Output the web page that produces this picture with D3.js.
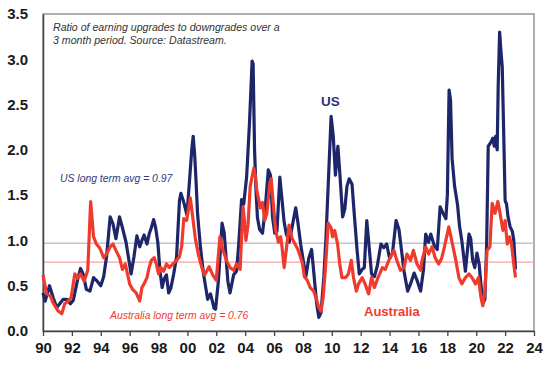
<!DOCTYPE html>
<html>
<head>
<meta charset="utf-8">
<script src="https://cdn.jsdelivr.net/npm/d3@7"></script>
<style>
  html, body { margin: 0; padding: 0; background: #fff; }
  svg { display: block; }
  text { font-family: "Liberation Sans", Arial, sans-serif; }
</style>
</head>
<body>
<svg id="chart" width="548" height="366"></svg>
<script>
// ---- data ----
const xTickYears = [1990,1992,1994,1996,1998,2000,2002,2004,2006,2008,2010,2012,2014,2016,2018,2020,2022,2024];
const xTickLabels = ["90","92","94","96","98","00","02","04","06","08","10","12","14","16","18","20","22","24"];
const yTicks = [0, 0.5, 1.0, 1.5, 2.0, 2.5, 3.0, 3.5];
const usLongTermAvg = 0.97;
const auLongTermAvg = 0.76;

const usYears = [1990.0,1990.15,1990.45,1990.7,1990.95,1991.2,1991.4,1991.65,1991.9,1992.1,1992.4,1992.6,1992.8,1993.0,1993.25,1993.5,1993.75,1994.0,1994.2,1994.4,1994.65,1994.85,1995.05,1995.3,1995.5,1995.75,1995.95,1996.1,1996.3,1996.5,1996.7,1996.85,1997.0,1997.2,1997.35,1997.5,1997.66,1997.8,1997.95,1998.1,1998.25,1998.4,1998.55,1998.7,1998.85,1999.05,1999.25,1999.45,1999.55,1999.75,1999.97,2000.15,2000.3,2000.4,2000.5,2000.6,2000.7,2000.9,2001.1,2001.4,2001.6,2001.85,2001.95,2002.15,2002.4,2002.55,2002.8,2002.95,2003.2,2003.4,2003.55,2003.75,2003.9,2004.1,2004.3,2004.48,2004.55,2004.65,2004.75,2004.85,2005.0,2005.2,2005.4,2005.6,2005.75,2005.9,2006.05,2006.2,2006.4,2006.55,2006.7,2006.85,2007.05,2007.25,2007.5,2007.65,2007.85,2008.0,2008.2,2008.4,2008.6,2008.75,2008.95,2009.1,2009.25,2009.45,2009.6,2009.8,2009.95,2010.1,2010.25,2010.42,2010.55,2010.75,2010.9,2011.05,2011.2,2011.4,2011.55,2011.75,2011.9,2012.1,2012.25,2012.42,2012.6,2012.75,2012.95,2013.15,2013.4,2013.6,2013.8,2014.0,2014.2,2014.45,2014.65,2014.85,2015.0,2015.25,2015.45,2015.7,2015.9,2016.15,2016.35,2016.5,2016.7,2016.85,2017.1,2017.3,2017.5,2017.7,2017.9,2018.0,2018.12,2018.22,2018.33,2018.5,2018.7,2018.85,2019.0,2019.25,2019.5,2019.62,2019.75,2019.9,2020.05,2020.2,2020.3,2020.45,2020.6,2020.72,2020.83,2021.0,2021.15,2021.25,2021.35,2021.45,2021.52,2021.62,2021.72,2021.8,2021.9,2022.0,2022.1,2022.2,2022.35,2022.5,2022.6,2022.72];
const usValues = [0.42,0.33,0.50,0.37,0.26,0.31,0.35,0.35,0.30,0.34,0.57,0.69,0.62,0.46,0.44,0.59,0.55,0.50,0.60,0.82,1.26,1.18,1.02,1.26,1.14,0.98,0.78,0.63,0.82,1.05,0.93,1.00,1.06,0.96,1.07,1.14,1.23,1.14,0.98,0.66,0.48,0.58,0.62,0.42,0.47,0.63,0.82,1.44,1.52,1.42,1.28,1.67,2.00,2.15,1.95,1.65,1.30,0.93,0.65,0.35,0.41,0.25,0.24,0.56,1.19,1.08,0.55,0.42,0.62,0.66,0.95,1.45,1.40,1.70,2.30,2.98,2.95,2.00,1.55,1.25,1.12,1.08,1.37,1.78,1.72,1.25,1.08,1.10,1.70,1.45,1.20,1.07,0.98,1.15,1.36,1.20,0.95,0.80,0.60,0.80,0.90,0.65,0.30,0.15,0.20,0.60,1.05,1.80,2.37,2.15,1.72,2.04,1.75,1.26,1.35,1.60,1.68,1.62,1.30,0.89,0.63,0.68,0.70,1.22,0.90,0.63,0.60,0.72,0.96,0.92,0.96,0.80,0.86,1.22,1.12,0.86,0.66,0.44,0.52,0.64,0.56,0.44,0.68,1.07,0.98,1.07,0.94,0.90,1.37,1.30,1.24,1.50,2.66,2.55,1.90,1.60,1.40,1.15,1.00,0.66,1.07,1.02,0.78,0.70,0.86,0.74,0.56,0.30,0.35,0.95,2.04,2.08,2.13,2.04,2.15,2.00,2.70,3.30,3.07,2.92,2.20,1.44,1.40,1.26,1.15,1.10,1.00,0.68];

const auYears = [1990.0,1990.25,1990.5,1990.7,1991.05,1991.3,1991.5,1991.75,1991.95,1992.2,1992.4,1992.6,1992.85,1993.1,1993.3,1993.5,1993.7,1993.95,1994.2,1994.4,1994.65,1994.85,1995.05,1995.3,1995.5,1995.7,1996.0,1996.2,1996.45,1996.7,1996.85,1997.0,1997.2,1997.35,1997.5,1997.7,1997.85,1998.0,1998.15,1998.35,1998.55,1998.75,1999.0,1999.25,1999.45,1999.6,1999.75,1999.95,2000.2,2000.35,2000.55,2000.75,2001.0,2001.2,2001.5,2001.75,2002.0,2002.25,2002.45,2002.7,2002.95,2003.2,2003.4,2003.65,2003.85,2003.95,2004.05,2004.2,2004.35,2004.6,2004.7,2004.8,2004.95,2005.05,2005.2,2005.35,2005.5,2005.7,2005.8,2005.95,2006.1,2006.3,2006.45,2006.55,2006.7,2006.85,2007.04,2007.25,2007.45,2007.65,2007.95,2008.1,2008.3,2008.5,2008.75,2008.9,2009.1,2009.25,2009.4,2009.55,2009.75,2009.95,2010.05,2010.2,2010.4,2010.55,2010.7,2010.95,2011.15,2011.35,2011.5,2011.7,2011.85,2012.1,2012.3,2012.55,2012.75,2012.95,2013.2,2013.5,2013.7,2013.95,2014.3,2014.5,2014.75,2015.0,2015.2,2015.45,2015.65,2015.9,2016.15,2016.25,2016.5,2016.7,2016.95,2017.15,2017.4,2017.6,2017.8,2018.1,2018.3,2018.55,2018.8,2019.0,2019.25,2019.5,2019.7,2019.95,2020.15,2020.33,2020.45,2020.6,2020.75,2020.95,2021.1,2021.3,2021.5,2021.65,2021.85,2022.0,2022.15,2022.3,2022.45,2022.6,2022.72];
const auValues = [0.62,0.41,0.39,0.31,0.22,0.19,0.30,0.33,0.37,0.63,0.58,0.63,0.55,0.67,1.43,1.04,0.96,0.91,0.81,0.85,0.93,0.96,0.89,0.81,0.68,0.74,0.52,0.46,0.42,0.33,0.48,0.52,0.59,0.70,0.78,0.81,0.74,0.63,0.70,0.66,0.74,0.70,0.74,0.78,0.82,0.93,1.24,1.22,1.47,1.28,1.02,0.85,0.70,0.62,0.71,0.62,0.56,1.04,0.90,0.78,0.70,0.67,0.74,0.68,1.37,1.22,1.00,1.18,1.60,1.80,1.72,1.56,1.44,1.36,1.42,1.22,1.30,1.62,1.68,1.40,1.12,0.98,1.04,0.93,0.70,0.90,1.17,1.02,0.96,0.90,0.76,0.60,0.56,0.48,0.44,0.37,0.26,0.22,0.37,0.67,1.19,1.14,1.04,1.11,0.96,0.74,0.59,0.59,0.63,0.78,0.59,0.44,0.52,0.59,0.52,0.41,0.59,0.48,0.59,0.70,0.68,0.78,0.89,0.78,0.67,0.70,0.85,0.78,0.89,0.74,0.67,0.78,0.93,0.85,0.93,0.81,0.74,0.80,0.93,1.15,1.00,0.81,0.59,0.52,0.59,0.63,0.59,0.52,0.59,0.37,0.28,0.44,0.89,0.93,1.41,1.30,1.43,1.30,1.11,1.22,0.96,1.04,0.95,0.74,0.59];

// ---- drawing ----
const svg = d3.select("#chart");
const mLeft = 43, mRight = 534, mTop = 14, mBottom = 331;

const x = d3.scaleLinear().domain([1990, 2024]).range([mLeft, mRight]);
const y = d3.scaleLinear().domain([0, 3.5]).range([mBottom, mTop]);

const navy = "#1d2668";
const red = "#ef3b2d";

// frame
svg.append("rect")
  .attr("x", mLeft).attr("y", mTop)
  .attr("width", mRight - mLeft).attr("height", mBottom - mTop)
  .attr("fill", "none").attr("stroke", "#7a7a7a").attr("stroke-width", 1.2);

// average lines
svg.append("line")
  .attr("x1", mLeft).attr("x2", mRight)
  .attr("y1", y(usLongTermAvg)).attr("y2", y(usLongTermAvg))
  .attr("stroke", "#c4c4cc").attr("stroke-width", 1.5);
svg.append("line")
  .attr("x1", mLeft).attr("x2", mRight)
  .attr("y1", y(auLongTermAvg)).attr("y2", y(auLongTermAvg))
  .attr("stroke", "#f5a3a3").attr("stroke-width", 1.2);

// x axis
const xAxis = d3.axisBottom(x)
  .tickValues(xTickYears)
  .tickFormat((d, i) => xTickLabels[i])
  .tickSize(5)
  .tickSizeOuter(0);
const gx = svg.append("g").attr("transform", `translate(0,${mBottom})`).call(xAxis);
gx.select(".domain").attr("stroke", "#444").attr("stroke-width", 1.5);
gx.selectAll(".tick line").attr("stroke", "#444").attr("stroke-width", 1.3);
gx.selectAll(".tick text")
  .attr("font-family", "'Liberation Sans', Arial, sans-serif")
  .attr("font-size", 15).attr("font-weight", "bold").attr("fill", "#1a1a1a")
  .attr("y", 11).attr("dy", "0.71em");

// y axis
const yAxis = d3.axisLeft(y)
  .tickValues(yTicks)
  .tickFormat(d3.format(".1f"))
  .tickSize(0)
  .tickPadding(15);
const gy = svg.append("g").attr("transform", `translate(${mLeft},0)`).call(yAxis);
gy.select(".domain").attr("stroke", "#444").attr("stroke-width", 1.5);
gy.selectAll(".tick text")
  .attr("font-family", "'Liberation Sans', Arial, sans-serif")
  .attr("font-size", 15).attr("font-weight", "bold").attr("fill", "#1a1a1a");

// series
const line = d3.line().x(d => x(d[0])).y(d => y(d[1]));
const us = usYears.map((t, i) => [t, usValues[i]]);
const au = auYears.map((t, i) => [t, auValues[i]]);

svg.append("path").datum(us)
  .attr("d", line).attr("fill", "none")
  .attr("stroke", navy).attr("stroke-width", 3.2).attr("stroke-linejoin", "round");
svg.append("path").datum(au)
  .attr("d", line).attr("fill", "none")
  .attr("stroke", red).attr("stroke-width", 3.2).attr("stroke-linejoin", "round");

// annotations
svg.append("text").attr("x", 53).attr("y", 31)
  .attr("font-size", 10.6).attr("font-style", "italic").attr("fill", "#333")
  .text("Ratio of earning upgrades to downgrades over a");
svg.append("text").attr("x", 53).attr("y", 44)
  .attr("font-size", 10.6).attr("font-style", "italic").attr("fill", "#333")
  .text("3 month period. Source: Datastream.");
svg.append("text").attr("x", 60).attr("y", 182)
  .attr("font-size", 10.4).attr("font-style", "italic").attr("fill", "#2e3a80")
  .text("US long term avg = 0.97");
svg.append("text").attr("x", 110).attr("y", 319)
  .attr("font-size", 10.4).attr("font-style", "italic").attr("fill", red)
  .text("Australia long term avg = 0.76");
svg.append("text").attr("x", 321).attr("y", 106)
  .attr("font-size", 13.5).attr("font-weight", "bold").attr("fill", "#2e3575")
  .text("US");
svg.append("text").attr("x", 364).attr("y", 316)
  .attr("font-size", 13).attr("font-weight", "bold").attr("fill", red)
  .text("Australia");
</script>
</body>
</html>
